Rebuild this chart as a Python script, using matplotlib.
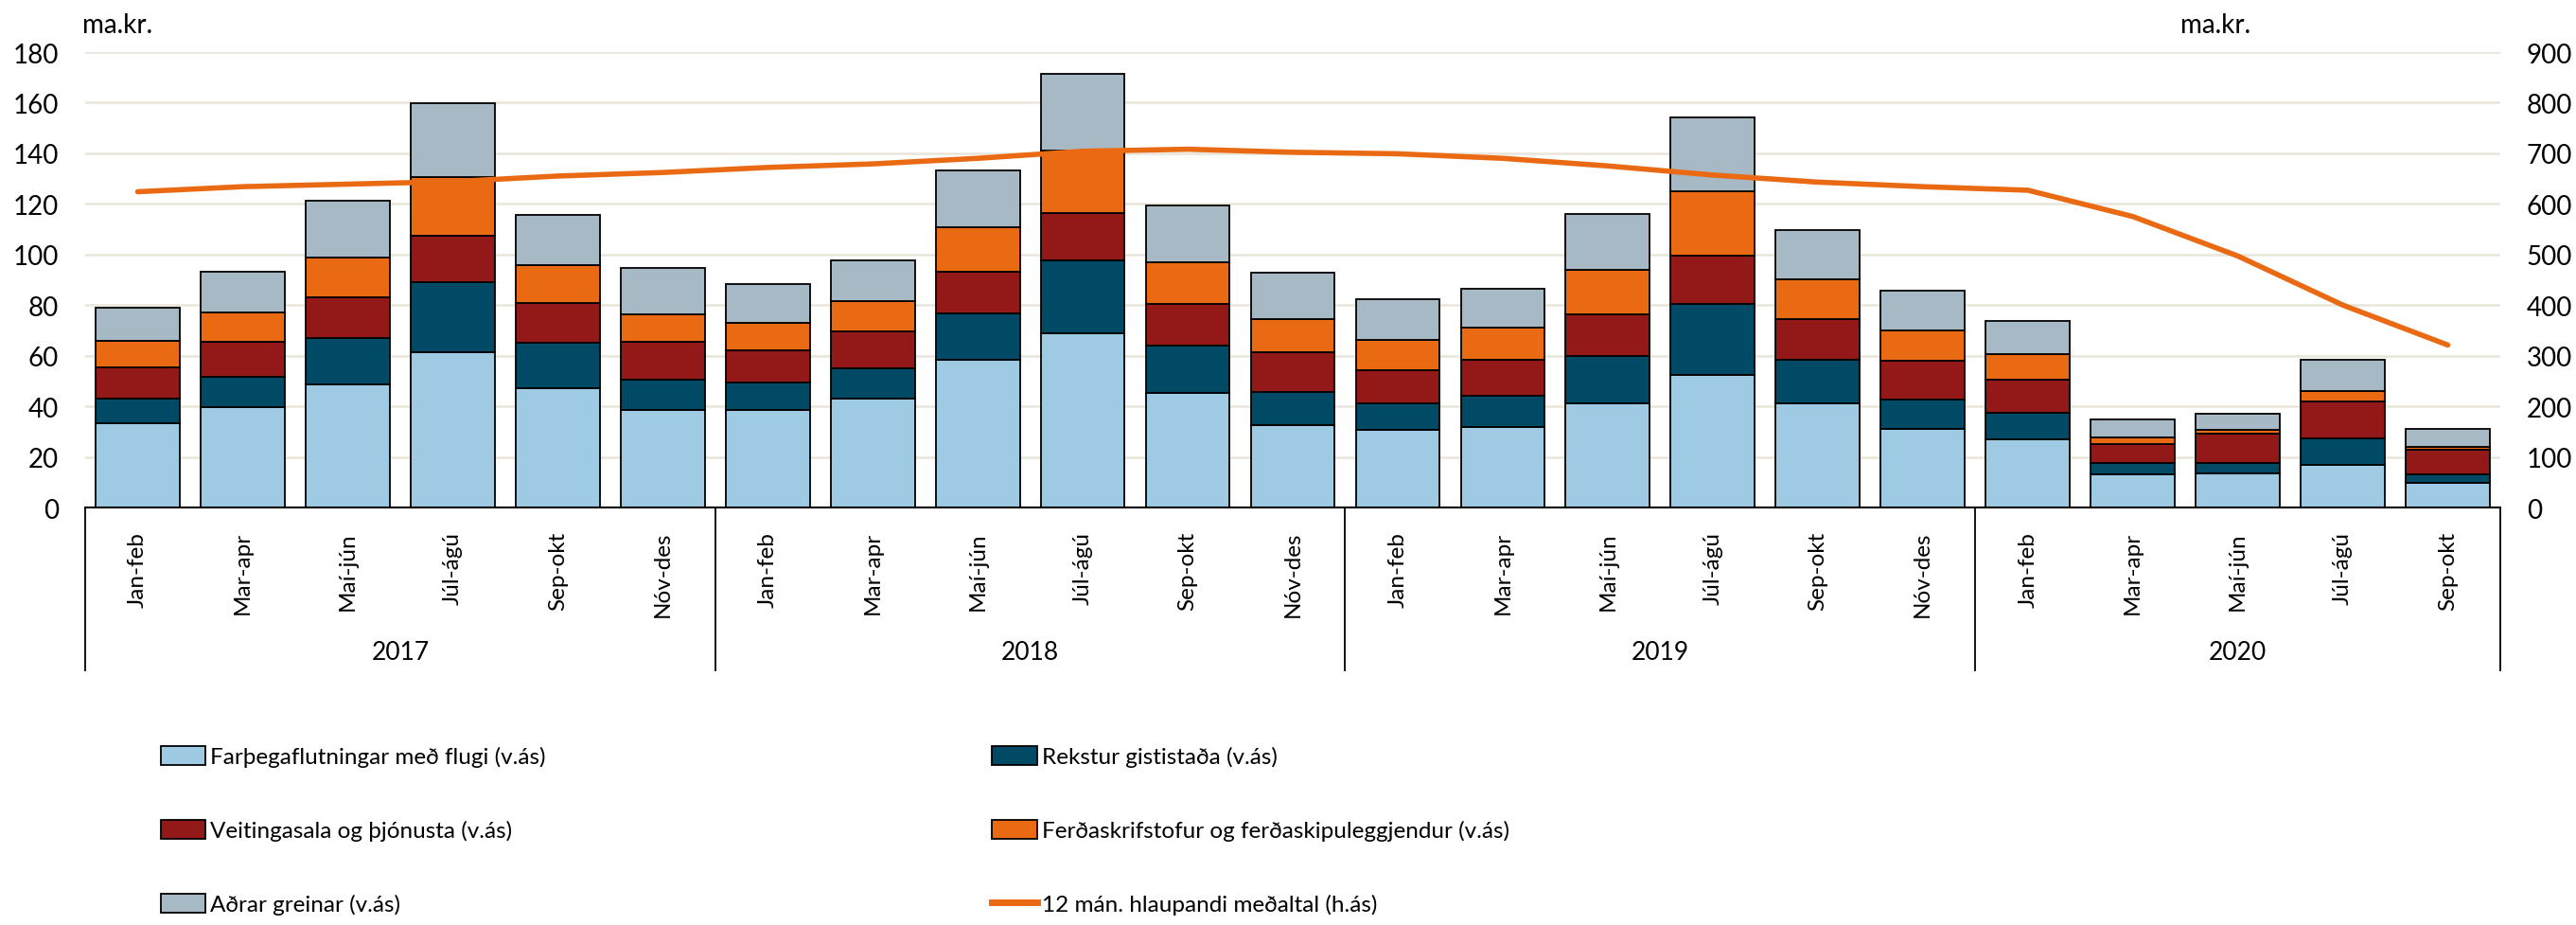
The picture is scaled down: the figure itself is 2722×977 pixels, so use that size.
import matplotlib
matplotlib.use("Agg")
from matplotlib import pyplot as plt
from matplotlib.patches import Patch
from matplotlib.lines import Line2D
import matplotlib.transforms as mtransforms
import numpy as np

# periods (two-month blocks) and years
months = ["Jan-feb", "Mar-apr", "Maí-jún", "Júl-ágú", "Sep-okt", "Nóv-des"] * 3 + \
    ["Jan-feb", "Mar-apr", "Maí-jún", "Júl-ágú", "Sep-okt"]
years = ["2017", "2018", "2019", "2020"]
year_counts = [6, 6, 6, 5]

# ma.kr., left axis
flug = [33.3, 39.5, 48.8, 61.4, 47.0, 38.6,
        38.6, 42.9, 58.2, 69.0, 45.4, 32.7,
        30.5, 31.9, 41.3, 52.4, 41.0, 30.9,
        26.9, 13.0, 13.4, 16.8, 9.7]
gisting = [9.8, 12.0, 18.3, 27.6, 18.1, 11.8,
           10.7, 12.1, 18.5, 28.6, 18.7, 13.1,
           10.8, 12.2, 18.5, 28.2, 17.5, 11.7,
           10.5, 4.5, 4.1, 10.4, 3.3]
veitingar = [12.1, 14.0, 15.8, 18.5, 15.8, 15.1,
             12.9, 14.5, 16.6, 18.8, 16.3, 15.5,
             13.0, 14.1, 16.5, 19.1, 15.8, 15.3,
             13.0, 7.4, 11.7, 14.7, 9.8]
ferdaskr = [10.7, 11.5, 15.9, 23.0, 14.8, 10.8,
            10.8, 12.1, 17.3, 24.5, 16.4, 13.2,
            12.0, 13.0, 17.8, 25.3, 15.9, 11.9,
            10.1, 2.9, 1.3, 4.2, 1.1]
adrar = [13.1, 16.3, 22.6, 29.2, 19.8, 18.2,
         15.4, 16.1, 22.7, 30.6, 22.6, 18.2,
         16.2, 15.4, 22.0, 29.2, 19.3, 15.8,
         13.2, 6.9, 6.5, 12.1, 7.0]
# 12 month running average, right axis
medaltal = [624, 634, 639, 644, 655, 662,
            672, 679, 690, 704, 708, 702,
            699, 690, 675, 657, 643, 634,
            627, 575, 497, 400, 321]

series = [
    ("Farþegaflutningar með flugi (v.ás)", flug, "#9ECAE4"),
    ("Rekstur gististaða (v.ás)", gisting, "#004A66"),
    ("Veitingasala og þjónusta (v.ás)", veitingar, "#931818"),
    ("Ferðaskrifstofur og ferðaskipuleggjendur (v.ás)", ferdaskr, "#EA6A13"),
    ("Aðrar greinar (v.ás)", adrar, "#A7B9C4"),
]
line_label = "12 mán. hlaupandi meðaltal (h.ás)"
line_color = "#EA6A13"

plt.rcParams["font.family"] = ["Lato", "DejaVu Sans"]

W, H = 2722, 978
fig = plt.figure(figsize=(W / 100, H / 100), dpi=100)
ax = fig.add_axes([90 / W, 1 - 537 / H, 2552 / W, 481 / H])

x = np.arange(len(months))
bottom = np.zeros(len(months))
for name, vals, col in series:
    ax.bar(x, vals, 0.8, bottom=bottom, color=col, edgecolor="black",
           linewidth=1.3, label=name)
    bottom += np.array(vals)

ax.set_xlim(-0.5, len(months) - 0.5)
ax.set_ylim(0, 180)
ax.set_yticks(range(0, 181, 20))
ax.yaxis.grid(True, color="#E9E5DA", linewidth=1.8)
ax.set_axisbelow(True)
for s in ["left", "right", "top"]:
    ax.spines[s].set_visible(False)
ax.spines["bottom"].set_linewidth(1.5)
ax.tick_params(axis="y", length=0, pad=20, labelsize=20)
ax.set_xticks(x)
ax.set_xticklabels(months, rotation=90, fontsize=17.5)
ax.tick_params(axis="x", length=0, pad=18)

ax2 = ax.twinx()
ax2.plot(x, medaltal, color=line_color, linewidth=4, solid_capstyle="round")
ax2.set_ylim(0, 900)
ax2.set_yticks(range(0, 901, 100))
for s in ["left", "right", "top", "bottom"]:
    ax2.spines[s].set_visible(False)
ax2.tick_params(axis="y", length=0, pad=20, labelsize=20)

# year group boxes under the axis
trans = mtransforms.blended_transform_factory(ax.transData, ax.transAxes)
edges = np.concatenate([[0], np.cumsum(year_counts)]) - 0.5
for e in edges:
    ax.plot([e, e], [0, -0.358], color="black", linewidth=1.3,
            transform=trans, clip_on=False)
for i, yr in enumerate(years):
    mid = (edges[i] + edges[i + 1]) / 2
    ax.text(mid, -0.318, yr, transform=trans, ha="center", va="center",
            fontsize=19)

fig.text(87 / W, 1 - 27 / H, "ma.kr.", ha="left", va="center", fontsize=20)
fig.text(2304 / W, 1 - 27 / H, "ma.kr.", ha="left", va="center", fontsize=20)

patches = [Patch(facecolor=c, edgecolor="black", linewidth=1.3, label=n)
           for n, _, c in series]
line_h = Line2D([], [], color=line_color, linewidth=5, label=line_label)
# matplotlib fills legend columns first
handles = [patches[0], patches[2], patches[4], patches[1], patches[3], line_h]
fig.legend(handles=handles, ncol=2, loc="upper left",
           bbox_to_anchor=(170 / W, 1 - 789 / H), frameon=False,
           fontsize=17.5, borderpad=0, borderaxespad=0,
           handlelength=1.95, handleheight=0.9, handletextpad=0.2,
           columnspacing=19.4, labelspacing=2.28)

fig.savefig("out.png", dpi=100)
